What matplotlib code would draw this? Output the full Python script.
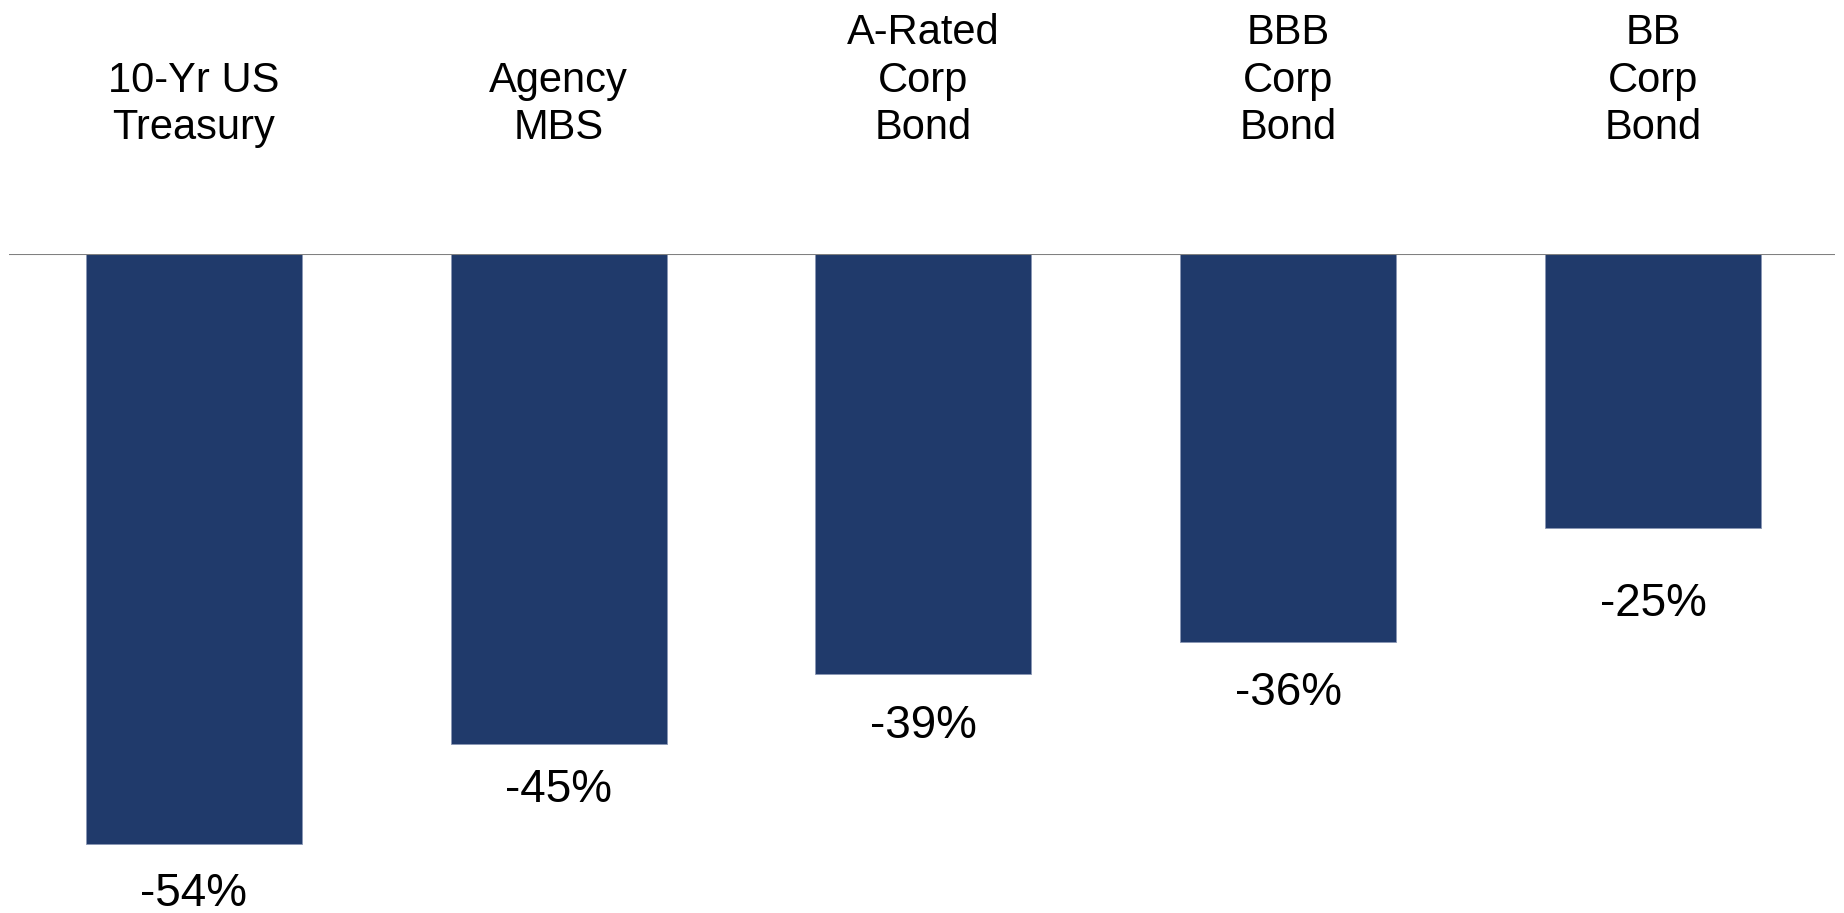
import matplotlib
matplotlib.use("Agg")
import matplotlib.pyplot as plt

categories = ["10-Yr US\nTreasury", "Agency\nMBS", "A-Rated\nCorp\nBond", "BBB\nCorp\nBond", "BB\nCorp\nBond"]
values = [-54, -44.8, -38.4, -35.5, -25.1]
value_labels = ["-54%", "-45%", "-39%", "-36%", "-25%"]

# label placement (style, not data): baseline distance below bar end, in pixels
label_gap_px = [62, 58, 64, 63, 88]

BAR_COLOR = "#203A6B"
FONT = "Liberation Sans"
CAT_FS = 30
VAL_FS = 33

fig = plt.figure(figsize=(18.44, 9.13), dpi=100)
ax = fig.add_axes([9 / 1844, (913 - 254 - 60 * 10.93) / 913, 1826 / 1844, 60 * 10.93 / 913])
x = list(range(len(categories)))
ax.bar(x, values, width=0.592, color=BAR_COLOR, edgecolor="#8a97b5", linewidth=0.6, zorder=2)
ax.axhline(0, color="#808080", linewidth=1.5, zorder=3)
ax.set_xlim(-0.507, 4.499)
ax.set_ylim(-60, 0)
ax.axis("off")

for xi, cat in zip(x, categories):
    ax.annotate(cat, xy=(xi, 0), xytext=(0, 106), textcoords="offset pixels",
                ha="center", va="bottom", fontsize=CAT_FS, family=FONT,
                linespacing=1.24, annotation_clip=False)

for xi, v, lab, gap in zip(x, values, value_labels, label_gap_px):
    ax.annotate(lab, xy=(xi, v), xytext=(0, -gap), textcoords="offset pixels",
                ha="center", va="baseline", fontsize=VAL_FS, family=FONT,
                annotation_clip=False)

fig.savefig("out.png", dpi=100)
